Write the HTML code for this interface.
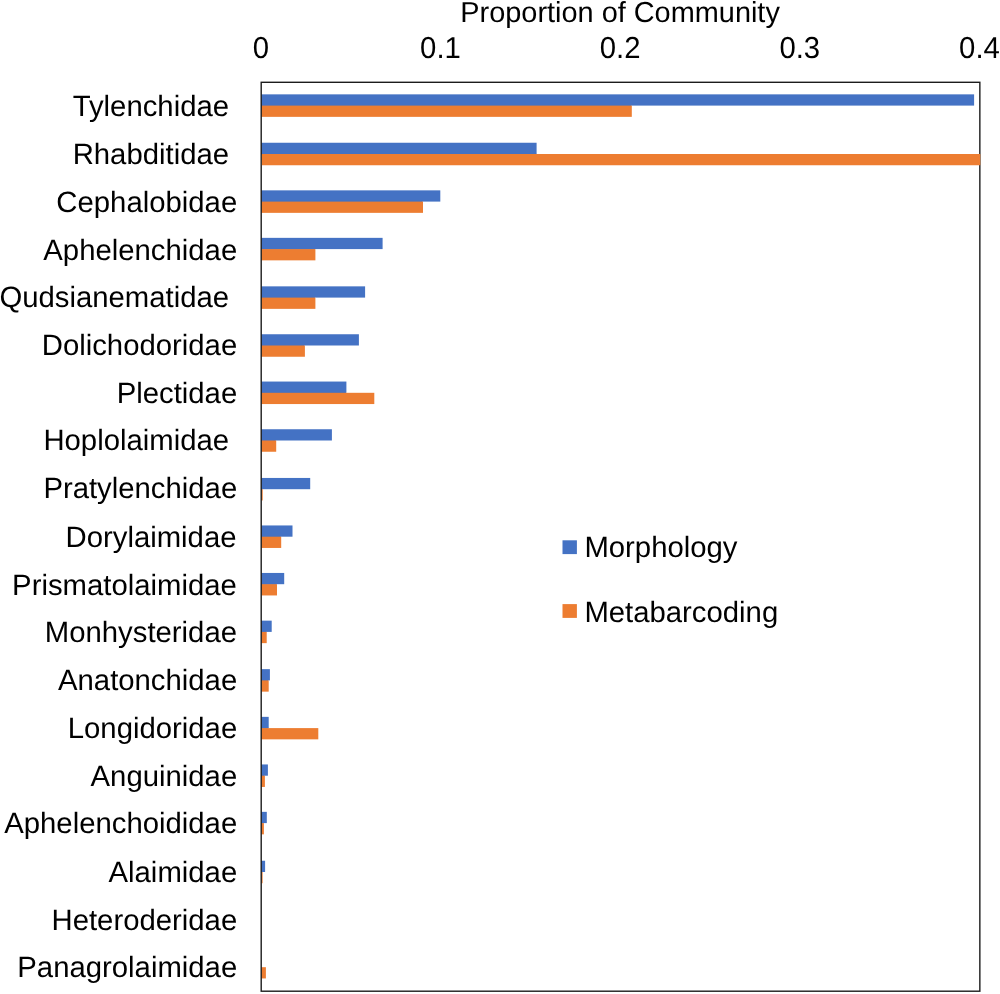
<!DOCTYPE html>
<html><head><meta charset="utf-8"><title>Proportion of Community</title>
<style>html,body{margin:0;padding:0;background:#fff;}body{width:1000px;height:994px;overflow:hidden;}svg{display:block;will-change:transform;}text{font-family:"Liberation Sans",sans-serif;fill:#000;text-rendering:geometricPrecision;}.lab{font-size:29.3px;text-anchor:end;}.tick{font-size:29.3px;text-anchor:middle;}.title{font-size:28.9px;text-anchor:middle;}.leg{font-size:29.3px;}</style></head><body>
<svg width="1000" height="994" viewBox="0 0 1000 994">
<rect x="0" y="0" width="1000" height="994" fill="#ffffff"/>
<rect x="261.20" y="104.60" width="370.10" height="1.6" fill="#4472C4"/>
<rect x="261.20" y="94.35" width="712.90" height="11.25" fill="#4472C4"/>
<rect x="261.20" y="105.60" width="370.60" height="11.25" fill="#ED7D31"/>
<rect x="261.20" y="153.00" width="274.90" height="1.6" fill="#4472C4"/>
<rect x="261.20" y="142.75" width="275.40" height="11.25" fill="#4472C4"/>
<rect x="261.20" y="200.60" width="161.30" height="1.6" fill="#4472C4"/>
<rect x="261.20" y="190.35" width="179.10" height="11.25" fill="#4472C4"/>
<rect x="261.20" y="201.60" width="161.80" height="11.25" fill="#ED7D31"/>
<rect x="261.20" y="248.10" width="53.70" height="1.6" fill="#4472C4"/>
<rect x="261.20" y="237.85" width="121.40" height="11.25" fill="#4472C4"/>
<rect x="261.20" y="249.10" width="54.20" height="11.25" fill="#ED7D31"/>
<rect x="261.20" y="296.60" width="53.70" height="1.6" fill="#4472C4"/>
<rect x="261.20" y="286.35" width="103.90" height="11.25" fill="#4472C4"/>
<rect x="261.20" y="297.60" width="54.20" height="11.25" fill="#ED7D31"/>
<rect x="261.20" y="344.50" width="43.20" height="1.6" fill="#4472C4"/>
<rect x="261.20" y="334.25" width="97.70" height="11.25" fill="#4472C4"/>
<rect x="261.20" y="345.50" width="43.70" height="11.25" fill="#ED7D31"/>
<rect x="261.20" y="391.80" width="84.70" height="1.6" fill="#4472C4"/>
<rect x="261.20" y="381.55" width="85.20" height="11.25" fill="#4472C4"/>
<rect x="261.20" y="392.80" width="113.10" height="11.25" fill="#ED7D31"/>
<rect x="261.20" y="439.50" width="14.50" height="1.6" fill="#4472C4"/>
<rect x="261.20" y="429.25" width="70.70" height="11.25" fill="#4472C4"/>
<rect x="261.20" y="440.50" width="15.00" height="11.25" fill="#ED7D31"/>
<rect x="261.20" y="488.20" width="1.00" height="1.6" fill="#4472C4"/>
<rect x="261.20" y="477.95" width="49.00" height="11.25" fill="#4472C4"/>
<rect x="261.20" y="489.20" width="1.50" height="11.25" fill="#ED7D31"/>
<rect x="261.20" y="535.70" width="19.50" height="1.6" fill="#4472C4"/>
<rect x="261.20" y="525.45" width="31.30" height="11.25" fill="#4472C4"/>
<rect x="261.20" y="536.70" width="20.00" height="11.25" fill="#ED7D31"/>
<rect x="261.20" y="583.20" width="15.30" height="1.6" fill="#4472C4"/>
<rect x="261.20" y="572.95" width="23.00" height="11.25" fill="#4472C4"/>
<rect x="261.20" y="584.20" width="15.80" height="11.25" fill="#ED7D31"/>
<rect x="261.20" y="630.90" width="5.00" height="1.6" fill="#4472C4"/>
<rect x="261.20" y="620.65" width="10.50" height="11.25" fill="#4472C4"/>
<rect x="261.20" y="631.90" width="5.50" height="11.25" fill="#ED7D31"/>
<rect x="261.20" y="679.40" width="7.00" height="1.6" fill="#4472C4"/>
<rect x="261.20" y="669.15" width="8.70" height="11.25" fill="#4472C4"/>
<rect x="261.20" y="680.40" width="7.50" height="11.25" fill="#ED7D31"/>
<rect x="261.20" y="727.10" width="7.00" height="1.6" fill="#4472C4"/>
<rect x="261.20" y="716.85" width="7.50" height="11.25" fill="#4472C4"/>
<rect x="261.20" y="728.10" width="57.10" height="11.25" fill="#ED7D31"/>
<rect x="261.20" y="774.70" width="3.20" height="1.6" fill="#4472C4"/>
<rect x="261.20" y="764.45" width="6.70" height="11.25" fill="#4472C4"/>
<rect x="261.20" y="775.70" width="3.70" height="11.25" fill="#ED7D31"/>
<rect x="261.20" y="822.10" width="2.20" height="1.6" fill="#4472C4"/>
<rect x="261.20" y="811.85" width="5.60" height="11.25" fill="#4472C4"/>
<rect x="261.20" y="823.10" width="2.70" height="11.25" fill="#ED7D31"/>
<rect x="261.20" y="871.00" width="0.90" height="1.6" fill="#4472C4"/>
<rect x="261.20" y="860.75" width="3.90" height="11.25" fill="#4472C4"/>
<rect x="261.20" y="872.00" width="1.40" height="11.25" fill="#ED7D31"/>
<rect x="261.20" y="967.20" width="4.70" height="11.25" fill="#ED7D31"/>
<rect x="261.20" y="82.30" width="718.65" height="908.90" fill="none" stroke="#1c1c1c" stroke-width="1.4"/>
<rect x="261.95" y="154.00" width="718.35" height="11.25" fill="#ED7D31"/>
<text x="229.05" y="116" class="lab">Tylenchidae</text>
<text x="229.05" y="164" class="lab">Rhabditidae</text>
<text x="237.20" y="212" class="lab">Cephalobidae</text>
<text x="237.20" y="260" class="lab">Aphelenchidae</text>
<text x="229.05" y="307" class="lab">Qudsianematidae</text>
<text x="237.20" y="355" class="lab">Dolichodoridae</text>
<text x="237.20" y="403" class="lab">Plectidae</text>
<text x="229.05" y="450" class="lab">Hoplolaimidae</text>
<text x="237.20" y="498" class="lab">Pratylenchidae</text>
<text x="236.50" y="547" class="lab">Dorylaimidae</text>
<text x="236.80" y="595" class="lab">Prismatolaimidae</text>
<text x="237.00" y="642" class="lab">Monhysteridae</text>
<text x="237.20" y="690" class="lab">Anatonchidae</text>
<text x="237.20" y="738" class="lab">Longidoridae</text>
<text x="237.20" y="786" class="lab">Anguinidae</text>
<text x="237.20" y="833" class="lab">Aphelenchoididae</text>
<text x="237.20" y="882" class="lab">Alaimidae</text>
<text x="237.20" y="930" class="lab">Heteroderidae</text>
<text x="237.20" y="977" class="lab">Panagrolaimidae</text>
<text transform="translate(260.80 57.70) scale(1 1.035)" class="tick">0</text>
<text transform="translate(440.46 57.70) scale(1 1.035)" class="tick">0.1</text>
<text transform="translate(620.13 57.70) scale(1 1.035)" class="tick">0.2</text>
<text transform="translate(799.79 57.70) scale(1 1.035)" class="tick">0.3</text>
<text transform="translate(979.45 57.70) scale(1 1.035)" class="tick">0.4</text>
<text x="620.10" y="22" class="title">Proportion of Community</text>
<rect x="562.5" y="540.3" width="14.4" height="13.8" fill="#4472C4"/>
<rect x="562.5" y="604.1" width="14.4" height="13.8" fill="#ED7D31"/>
<text x="584.4" y="557" class="leg">Morphology</text>
<text x="584.4" y="622" class="leg">Metabarcoding</text>
</svg></body></html>
